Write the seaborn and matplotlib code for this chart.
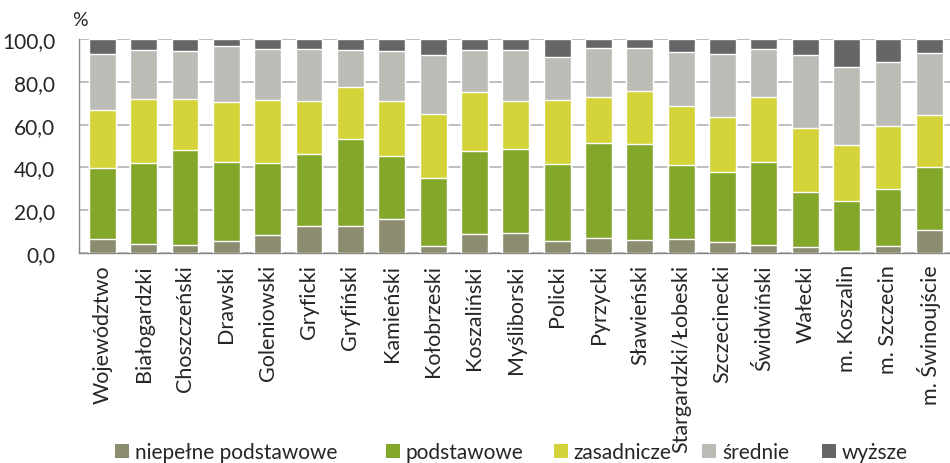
import numpy as np
import pandas as pd
import seaborn as sns
import matplotlib.pyplot as plt
from matplotlib.patches import Patch

# categories (powiaty) and shares of education levels, in %
powiaty = ["Województwo", "Białogardzki", "Choszczeński", "Drawski", "Goleniowski",
           "Gryficki", "Gryfiński", "Kamieński", "Kołobrzeski", "Koszaliński",
           "Myśliborski", "Policki", "Pyrzycki", "Sławieński", "Stargardzki/Łobeski",
           "Szczecinecki", "Świdwiński", "Wałecki", "m. Koszalin", "m. Szczecin",
           "m. Świnoujście"]

niepelne = [6.7, 4.2, 3.9, 5.8, 8.6, 12.6, 12.6, 16.0, 3.3, 8.9, 9.5, 5.8, 7.0,
            6.2, 6.7, 5.1, 3.9, 3.0, 1.1, 3.3, 10.7]
podstawowe = [33.0, 37.9, 44.2, 36.7, 33.5, 33.7, 40.7, 29.3, 31.7, 38.8, 39.1,
              35.8, 44.4, 44.7, 34.4, 32.8, 38.6, 25.5, 23.2, 26.6, 29.5]
zasadnicze = [27.1, 30.0, 24.0, 28.1, 29.4, 24.9, 24.4, 25.9, 30.0, 27.5, 22.6,
              29.9, 21.7, 25.0, 27.6, 25.8, 30.6, 29.9, 26.3, 29.4, 24.4]
srednie = [26.2, 22.8, 22.3, 26.1, 23.8, 24.1, 17.2, 23.2, 27.5, 19.7, 23.7,
           20.1, 22.7, 19.9, 25.2, 29.3, 22.2, 34.1, 36.3, 30.0, 28.9]
wyzsze = [7.0, 5.1, 5.6, 3.3, 4.7, 4.7, 5.1, 5.6, 7.5, 5.1, 5.1, 8.4, 4.2, 4.2,
          6.1, 7.0, 4.7, 7.5, 13.1, 10.7, 6.5]

poziomy = ["niepełne podstawowe", "podstawowe", "zasadnicze", "średnie", "wyższe"]
kolory = ["#8c8c70", "#82a72b", "#d4d43a", "#bbbcb5", "#666666"]

df = pd.DataFrame({"powiat": powiaty, poziomy[0]: niepelne, poziomy[1]: podstawowe,
                   poziomy[2]: zasadnicze, poziomy[3]: srednie, poziomy[4]: wyzsze})
cum = df[poziomy].cumsum(axis=1)

sns.set_style("white")
plt.rcParams['font.family'] = ['Lato', 'DejaVu Sans']

fig = plt.figure(figsize=(9.5, 4.64), dpi=100)
ax = fig.add_axes([79 / 950, 210 / 464, 871 / 950, 214 / 464])

# stacked bars: draw the cumulative sums from the top layer down
for poziom, kolor in zip(poziomy[::-1], kolory[::-1]):
    sns.barplot(x=df["powiat"], y=cum[poziom], color=kolor, saturation=1,
                width=0.65, ax=ax, zorder=3)

ax.set_ylim(0, 100)
ax.set_xlim(-0.563, 20.47)
ax.set_yticks(np.arange(0, 101, 20))
ax.set_yticklabels([f"{v:.1f}".replace(".", ",") for v in np.arange(0, 101, 20)])
ax.set_xticks(range(len(powiaty)))
ax.set_xticklabels(powiaty, rotation=90, va="top")
ax.set_xticks(np.arange(-0.5, len(powiaty), 1), minor=True)
ax.tick_params(axis="x", which="major", length=0, pad=8, labelsize=15.5)
ax.tick_params(axis="x", which="minor", length=5, color="#888888", width=1)
ax.tick_params(axis="y", length=8, color="#888888", width=1, pad=9, labelsize=15)
ax.set_xlabel("")
ax.set_ylabel("")
ax.yaxis.grid(True, color="#b3b3b3", linewidth=1.2, zorder=0)
ax.set_axisbelow(True)
for s in ["top", "right"]:
    ax.spines[s].set_visible(False)
for s in ["left", "bottom"]:
    ax.spines[s].set_color("#888888")
    ax.spines[s].set_linewidth(1)

fig.text(80 / 950, 1 - 20 / 464, "%", fontsize=14, ha="center", va="center")

# legend entries placed one by one, as in the original
leg_x = [115, 386, 554, 702, 822]
for poziom, kolor, x in zip(poziomy, kolory, leg_x):
    h = Patch(facecolor=kolor, edgecolor="none")
    fig.legend([h], [poziom], loc="center left", bbox_to_anchor=(x / 950, 11 / 464),
               frameon=False, fontsize=15, handlelength=0.65, handleheight=0.65,
               handletextpad=0.3, borderpad=0, borderaxespad=0)

fig.savefig("out.png", dpi=100)
